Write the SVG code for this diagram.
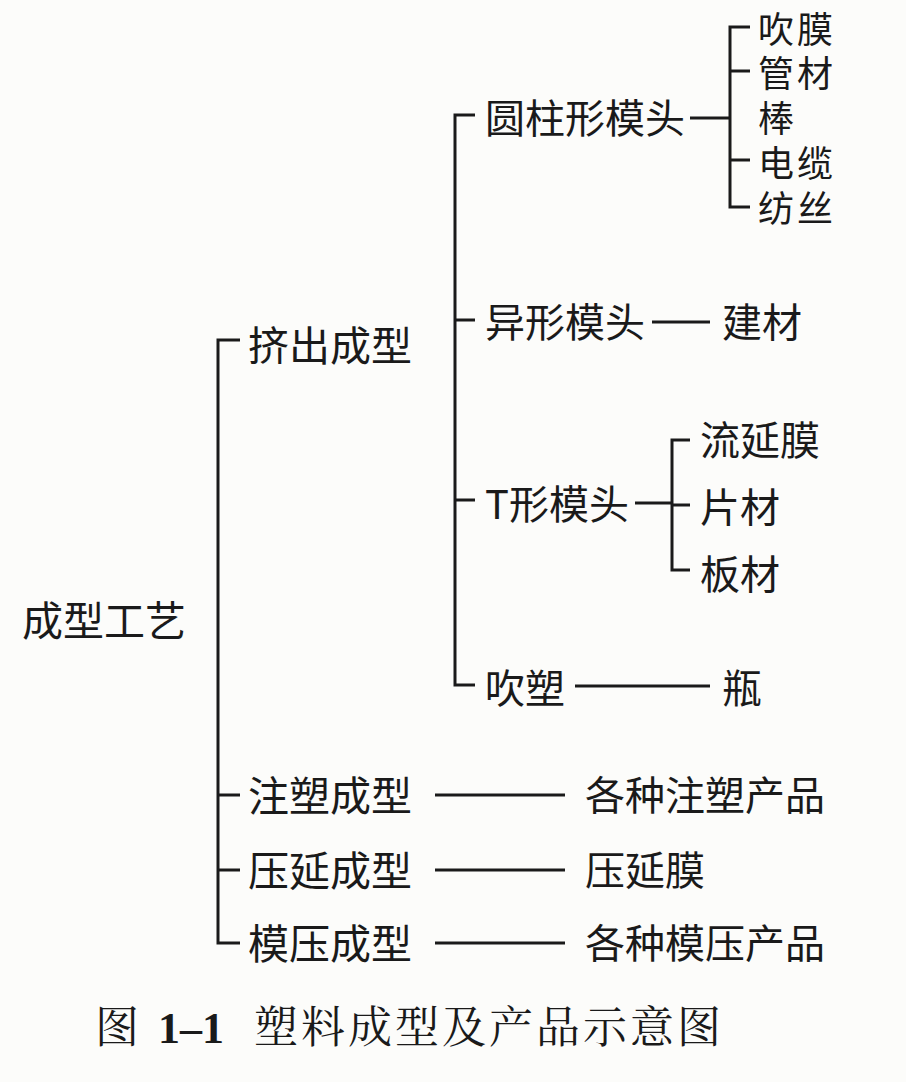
<svg xmlns="http://www.w3.org/2000/svg" width="906" height="1082" viewBox="0 0 906 1082">
<style>
text{font-family:"Noto Sans CJK SC","Liberation Sans",sans-serif;fill:#1a1a1a;dominant-baseline:central}
.l{font-size:41px}.s{font-size:40px}.t{font-size:36px;letter-spacing:3px}
#connectors path{stroke:#1a1a1a;stroke-width:3;fill:none}
.cap{font-family:"Liberation Serif","Noto Serif CJK SC","Noto Sans CJK SC",serif;font-size:44px}
</style>
<rect width="906" height="1082" fill="#fcfcfa"/>
<g id="connectors">
<path d="M240 340H218V943H240M218 795H240M218 870H240"/>
<path d="M475 115H455V685H475M455 320H475M455 500H475"/>
<path d="M690 118H730M750 27H730V207H750M730 71H750M730 160H750"/>
<path d="M652 322H710"/>
<path d="M635 503H672M690 440H672V570H690M672 505H690"/>
<path d="M575 686H710"/>
<path d="M435 795H565M435 870H565M435 943H565"/>
</g>
<g id="root"><text class="l" x="22" y="618">成型工艺</text></g>
<g id="n1"><text class="l" x="248" y="343">挤出成型</text></g>
<g id="n2"><text class="l" x="248" y="793">注塑成型</text></g>
<g id="n3"><text class="l" x="248" y="868">压延成型</text></g>
<g id="n4"><text class="l" x="248" y="941">模压成型</text></g>
<g id="m1"><text class="s" x="485" y="116">圆柱形模头</text></g>
<g id="m2"><text class="s" x="485" y="320">异形模头</text></g>
<g id="m3"><text class="s" x="485" y="502">T形模头</text></g>
<g id="m4"><text class="s" x="485" y="686">吹塑</text></g>
<g id="p1"><text class="t" x="758" y="27">吹膜</text><text class="t" x="758" y="71">管材</text><text class="t" x="758" y="116">棒</text><text class="t" x="758" y="161">电缆</text><text class="t" x="758" y="206">纺丝</text></g>
<g id="p2"><text class="s" x="722" y="320">建材</text></g>
<g id="p3"><text class="s" x="700" y="438">流延膜</text><text class="s" x="700" y="505">片材</text><text class="s" x="700" y="572">板材</text></g>
<g id="p4"><text class="s" x="722" y="686">瓶</text></g>
<g id="p5"><text class="s" x="585" y="793">各种注塑产品</text></g>
<g id="p6"><text class="s" x="585" y="868">压延膜</text></g>
<g id="p7"><text class="s" x="585" y="941">各种模压产品</text></g>
<g id="caption"><text class="cap" x="95" y="1028">图 <tspan font-weight="bold" dx="8">1–1</tspan><tspan dx="30" letter-spacing="3">塑料成型及产品示意图</tspan></text></g>
</svg>
